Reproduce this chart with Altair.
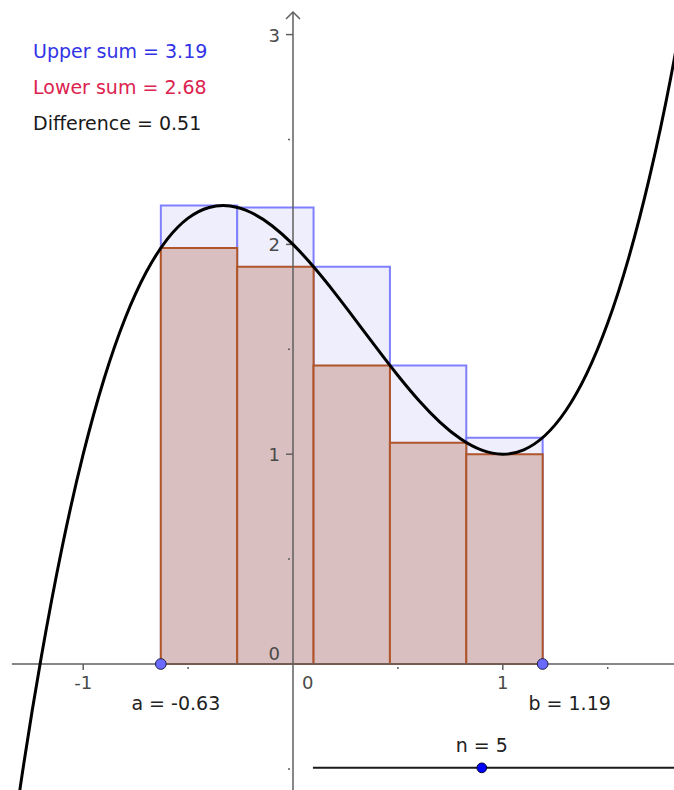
import altair as alt
import pandas as pd

# ---- data -------------------------------------------------------------
# f(x) sampled along the visible stretch of the curve
CURVE_X = [-1.4, -1.3, -1.2, -1.1, -1.0, -0.9, -0.8, -0.7, -0.6, -0.5, -0.4,
           -0.3, -0.2, -0.1, 0.0, 0.1, 0.2, 0.3, 0.4, 0.5, 0.6, 0.7, 0.8,
           0.9, 1.0, 1.1, 1.2, 1.3, 1.4, 1.5, 1.6, 1.7, 1.8, 1.9]
CURVE_Y = [-1.304, -0.587, 0.032, 0.559, 1.000, 1.361, 1.648, 1.867, 2.024,
           2.125, 2.176, 2.183, 2.152, 2.089, 2.000, 1.891, 1.768, 1.637,
           1.504, 1.375, 1.256, 1.153, 1.072, 1.019, 1.000, 1.021, 1.088,
           1.207, 1.384, 1.625, 1.936, 2.323, 2.792, 3.349]

# interval [a, b] split into n strips
A = -0.63
B = 1.19
N = 5
UPPER_HEIGHTS = [2.185, 2.176, 1.893, 1.423, 1.079]   # sup of f on each strip
LOWER_HEIGHTS = [1.983, 1.893, 1.423, 1.055, 1.000]   # inf of f on each strip

# axes and ticks
X_MAJOR = [-1, 1]
X_MINOR = [-0.5, 0.5, 1.5]
Y_MAJOR = [1, 2, 3]
Y_MINOR = [-0.5, 0.5, 1.5, 2.5]
X_AXIS_RANGE = [-1.34, 1.82]
Y_AXIS_RANGE = [-0.61, 3.108]

# slider for n
SLIDER_Y = -0.495
SLIDER_RANGE = [0.095, 1.82]
SLIDER_KNOB = 0.9

# ---- derived values -----------------------------------------------------
step = (B - A) / N
lefts = [A + i * step for i in range(N)]
rights = [A + (i + 1) * step for i in range(N)]
upper_sum = sum(UPPER_HEIGHTS) * step
lower_sum = sum(LOWER_HEIGHTS) * step

FONT = "DejaVu Sans"
AXIS_COLOR = "#5f5f5f"
LABEL_COLOR = "#4a4a4a"

XS = alt.Scale(domain=[-293 / 209.8, 381 / 209.8], nice=False, zero=False)
YS = alt.Scale(domain=[-126 / 209.8, 664 / 209.8], nice=False, zero=False)


def X(field):
    return alt.X(field, type="quantitative", scale=XS, axis=None)


def Y(field):
    return alt.Y(field, type="quantitative", scale=YS, axis=None)


strips = pd.DataFrame({"x0": lefts, "x1": rights, "upper": UPPER_HEIGHTS,
                       "lower": LOWER_HEIGHTS, "base": [0.0] * N})

upper_rects = alt.Chart(strips).mark_rect(
    fill="#eeeefd", stroke="#8080ff", strokeWidth=2
).encode(x=X("x0"), x2="x1", y=Y("upper"), y2="base")

lower_rects = alt.Chart(strips).mark_rect(
    fill="#d9bfbf", stroke="#b0552b", strokeWidth=2
).encode(x=X("x0"), x2="x1", y=Y("lower"), y2="base")

# axis lines
x_axis = alt.Chart(pd.DataFrame({"x0": [X_AXIS_RANGE[0]], "x1": [X_AXIS_RANGE[1]],
                                 "y": [0.0]})).mark_rule(
    color=AXIS_COLOR, strokeWidth=1.5
).encode(x=X("x0"), x2="x1", y=Y("y"))

y_axis = alt.Chart(pd.DataFrame({"y0": [Y_AXIS_RANGE[0]], "y1": [Y_AXIS_RANGE[1]],
                                 "x": [0.0]})).mark_rule(
    color=AXIS_COLOR, strokeWidth=1.5
).encode(y=Y("y0"), y2="y1", x=X("x"))

y_arrow = alt.Chart(pd.DataFrame({"x": [0.0], "y": [Y_AXIS_RANGE[1]]})).mark_point(
    shape="M -1 1 L 0 0 L 1 1", filled=False, stroke=AXIS_COLOR,
    strokeWidth=1.5, size=196, opacity=1
).encode(x=X("x"), y=Y("y"))

# tick marks
ymaj = pd.DataFrame({"v": Y_MAJOR, "z": [0.0] * len(Y_MAJOR)})
ymin = pd.DataFrame({"v": Y_MINOR, "z": [0.0] * len(Y_MINOR)})
xmaj = pd.DataFrame({"v": X_MAJOR, "z": [0.0] * len(X_MAJOR)})
xmin = pd.DataFrame({"v": X_MINOR, "z": [0.0] * len(X_MINOR)})

y_major_ticks = alt.Chart(ymaj).mark_rule(
    color=AXIS_COLOR, strokeWidth=1.5, xOffset=-7, x2Offset=0
).encode(x=X("z"), x2="z", y=Y("v"))
y_minor_ticks = alt.Chart(ymin).mark_rule(
    color=AXIS_COLOR, strokeWidth=1.5, xOffset=-5, x2Offset=-3
).encode(x=X("z"), x2="z", y=Y("v"))
x_major_ticks = alt.Chart(xmaj).mark_rule(
    color=AXIS_COLOR, strokeWidth=1.5, yOffset=0, y2Offset=6
).encode(y=Y("z"), y2="z", x=X("v"))
x_minor_ticks = alt.Chart(xmin).mark_rule(
    color=AXIS_COLOR, strokeWidth=1.5, yOffset=3, y2Offset=5
).encode(y=Y("z"), y2="z", x=X("v"))

# tick labels
ymaj_lab = ymaj.assign(t=[str(v) for v in Y_MAJOR])
xmaj_lab = xmaj.assign(t=[str(v) for v in X_MAJOR])
zero = pd.DataFrame({"z": [0.0], "t": ["0"]})

y_labels = alt.Chart(ymaj_lab).mark_text(
    font=FONT, fontSize=18, color=LABEL_COLOR, align="right",
    baseline="alphabetic", dx=-13, dy=7
).encode(x=X("z"), y=Y("v"), text="t:N")
y_zero_label = alt.Chart(zero).mark_text(
    font=FONT, fontSize=18, color=LABEL_COLOR, align="right",
    baseline="alphabetic", dx=-13, dy=-4
).encode(x=X("z"), y=Y("z"), text="t:N")
x_labels = alt.Chart(xmaj_lab).mark_text(
    font=FONT, fontSize=18, color=LABEL_COLOR, align="center",
    baseline="alphabetic", dy=25
).encode(x=X("v"), y=Y("z"), text="t:N")
x_zero_label = alt.Chart(zero).mark_text(
    font=FONT, fontSize=18, color=LABEL_COLOR, align="left",
    baseline="alphabetic", dx=9, dy=25
).encode(x=X("z"), y=Y("z"), text="t:N")

# the function graph
curve = alt.Chart(pd.DataFrame({"x": CURVE_X, "y": CURVE_Y})).mark_line(
    color="black", strokeWidth=3, interpolate="natural", clip=True
).encode(x=X("x"), y=Y("y"), order="x:Q")

# endpoints a and b
ends = pd.DataFrame({"x": [A, B], "y": [0.0, 0.0]})
end_points = alt.Chart(ends).mark_point(
    shape="circle", filled=True, fill="#6a6aff", stroke="#22224a",
    strokeWidth=1, size=115, opacity=1
).encode(x=X("x"), y=Y("y"))

a_label = alt.Chart(pd.DataFrame({"x": [A], "y": [0.0], "t": [f"a = {A:.2f}"]})).mark_text(
    font=FONT, fontSize=19, color="#222222", align="center",
    baseline="alphabetic", dx=15, dy=46
).encode(x=X("x"), y=Y("y"), text="t:N")
b_label = alt.Chart(pd.DataFrame({"x": [B], "y": [0.0], "t": [f"b = {B:.2f}"]})).mark_text(
    font=FONT, fontSize=19, color="#222222", align="center",
    baseline="alphabetic", dx=27, dy=46
).encode(x=X("x"), y=Y("y"), text="t:N")

# slider
slider_line = alt.Chart(pd.DataFrame({"x0": [SLIDER_RANGE[0]], "x1": [SLIDER_RANGE[1]],
                                      "y": [SLIDER_Y]})).mark_rule(
    color="#1a1a1a", strokeWidth=2
).encode(x=X("x0"), x2="x1", y=Y("y"))
knob = pd.DataFrame({"x": [SLIDER_KNOB], "y": [SLIDER_Y], "t": [f"n = {N}"]})
slider_knob = alt.Chart(knob).mark_point(
    shape="circle", filled=True, fill="#0000ff", stroke="#000033",
    strokeWidth=1, size=95, opacity=1
).encode(x=X("x"), y=Y("y"))
slider_label = alt.Chart(knob).mark_text(
    font=FONT, fontSize=19, color="#222222", align="center",
    baseline="alphabetic", dy=-16
).encode(x=X("x"), y=Y("y"), text="t:N")

# sums in the top-left corner
upper_text = alt.Chart().mark_text(
    font=FONT, fontSize=19, color="#3232e6", align="left", baseline="alphabetic"
).encode(x=alt.value(33), y=alt.value(58), text=alt.value(f"Upper sum = {upper_sum:.2f}"))
lower_text = alt.Chart().mark_text(
    font=FONT, fontSize=19, color="#dc2350", align="left", baseline="alphabetic"
).encode(x=alt.value(33), y=alt.value(94), text=alt.value(f"Lower sum = {lower_sum:.2f}"))
diff_text = alt.Chart().mark_text(
    font=FONT, fontSize=19, color="#1a1a1a", align="left", baseline="alphabetic"
).encode(x=alt.value(33), y=alt.value(130),
         text=alt.value(f"Difference = {upper_sum - lower_sum:.2f}"))

chart = alt.layer(
    upper_rects, lower_rects,
    x_axis, y_axis, y_arrow,
    y_major_ticks, y_minor_ticks, x_major_ticks, x_minor_ticks,
    y_labels, y_zero_label, x_labels, x_zero_label,
    curve, end_points, a_label, b_label,
    slider_line, slider_knob, slider_label,
    upper_text, lower_text, diff_text,
).properties(
    width=674, height=790, padding=0,
    autosize=alt.AutoSizeParams(type="none"),
    background="white",
).configure_view(stroke="transparent")

chart.save("out.html", embed_options={"renderer": "svg", "actions": False})
